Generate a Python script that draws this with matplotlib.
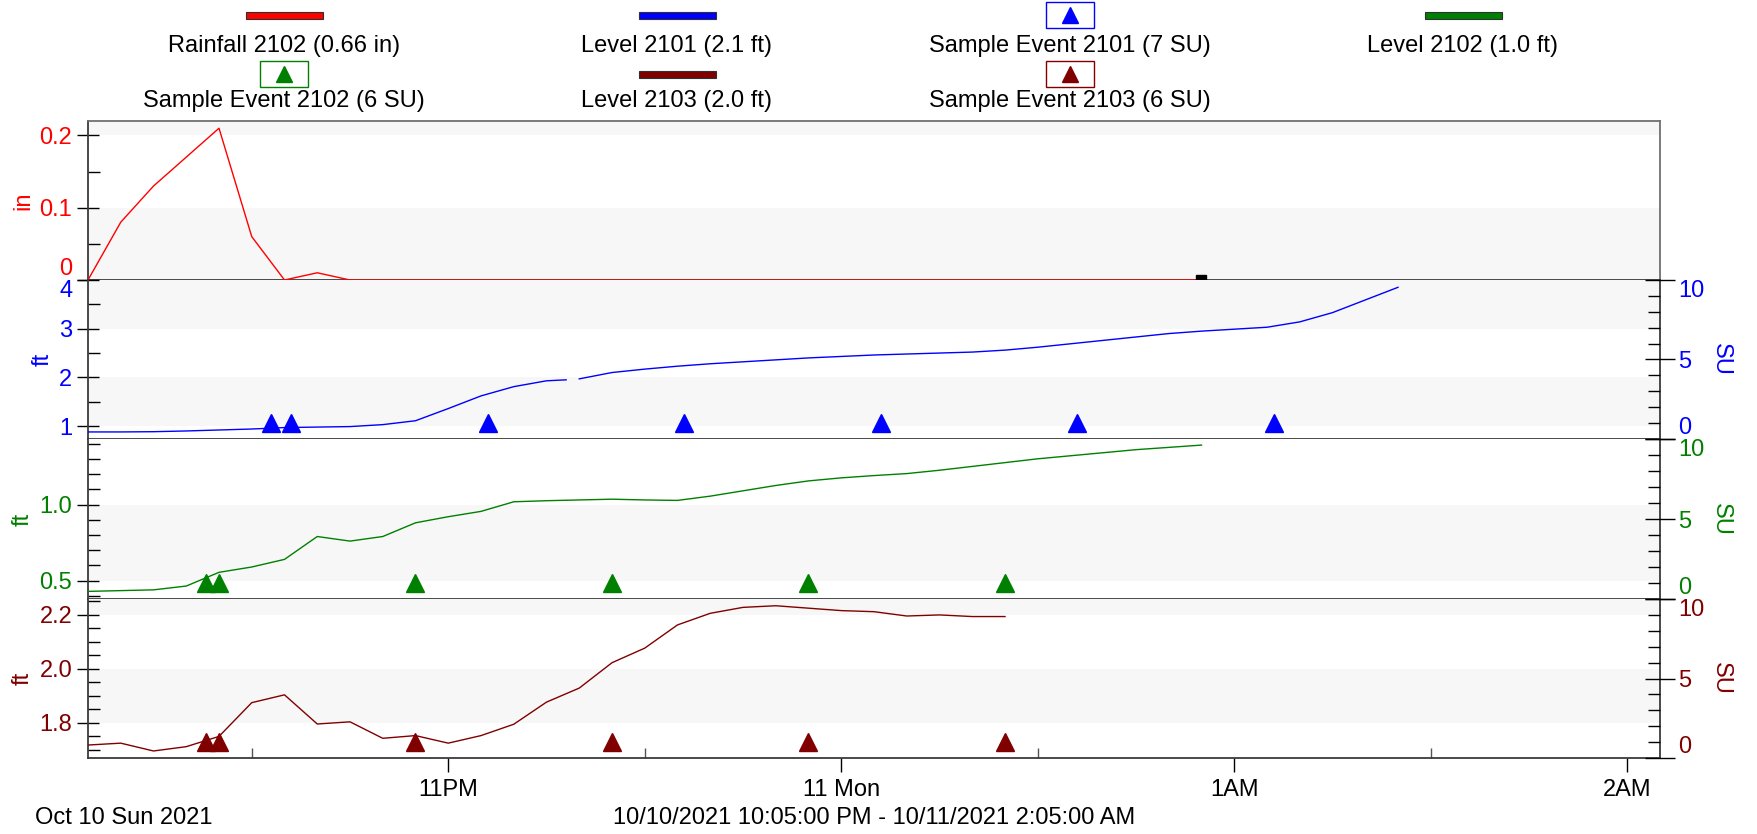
import numpy as np
import pandas as pd
import matplotlib
matplotlib.use("Agg")
import matplotlib.pyplot as plt
import matplotlib.dates as mdates
from matplotlib.patches import Rectangle
from matplotlib.lines import Line2D
from matplotlib.ticker import FixedLocator, MultipleLocator

plt.rcParams['font.family'] = ['Liberation Sans', 'DejaVu Sans']
FS = 17

# ---- data ----
day0 = "2021-10-10"
day1 = "2021-10-11"

rain_start = "22:05"
rain_in = [0.0, 0.08, 0.13, 0.17, 0.21, 0.06, 0.0, 0.01, 0.0,
           0.0, 0.0, 0.0, 0.0, 0.0, 0.0, 0.0, 0.0, 0.0, 0.0, 0.0, 0.0, 0.0, 0.0,
           0.0, 0.0, 0.0, 0.0, 0.0, 0.0, 0.0, 0.0, 0.0, 0.0, 0.0, 0.0]

lvl2101_times = ["22:05", "22:10", "22:15", "22:20", "22:25", "22:30", "22:35", "22:40",
                 "22:45", "22:50", "22:55", "23:00", "23:05", "23:10", "23:15", "23:18",
                 "23:19", "23:20", "23:25", "23:30", "23:35", "23:40", "23:45", "23:50",
                 "23:55", "00:00", "00:05", "00:10", "00:15", "00:20", "00:25", "00:30",
                 "00:35", "00:40", "00:45", "00:50", "00:55", "01:00", "01:05", "01:10",
                 "01:15", "01:20", "01:25"]
lvl2101_ft = [0.88, 0.88, 0.885, 0.90, 0.92, 0.94, 0.97, 0.98,
              0.99, 1.03, 1.11, 1.36, 1.62, 1.81, 1.93, 1.95,
              np.nan, 1.97, 2.10, 2.17, 2.23, 2.28, 2.32, 2.36,
              2.40, 2.43, 2.46, 2.48, 2.50, 2.52, 2.56, 2.62,
              2.69, 2.76, 2.83, 2.90, 2.95, 2.99, 3.03, 3.14,
              3.33, 3.59, 3.85]

lvl2102_start = "22:05"
lvl2102_ft = [0.43, 0.435, 0.44, 0.465, 0.555, 0.59, 0.64, 0.79, 0.76, 0.79, 0.88,
              0.92, 0.955, 1.018, 1.025, 1.03, 1.035, 1.03, 1.027, 1.055, 1.09, 1.125, 1.155,
              1.175, 1.19, 1.203, 1.225, 1.25, 1.275, 1.30, 1.32, 1.34, 1.36, 1.375, 1.39]

lvl2103_start = "22:05"
lvl2103_ft = [1.718, 1.725, 1.696, 1.712, 1.75, 1.875, 1.904, 1.796, 1.804, 1.743, 1.753,
              1.725, 1.753, 1.795, 1.877, 1.929, 2.023, 2.077, 2.163, 2.206, 2.228, 2.234, 2.225,
              2.216, 2.212, 2.196, 2.200, 2.194, 2.194]

se2101_times = ["22:33", "22:36", "23:06", "23:36", "00:06", "00:36", "01:06"]
se2101_su = [1, 1, 1, 1, 1, 1, 1]
se2102_times = ["22:23", "22:25", "22:55", "23:25", "23:55", "00:25"]
se2102_su = [1, 1, 1, 1, 1, 1]
se2103_times = ["22:23", "22:25", "22:55", "23:25", "23:55", "00:25"]
se2103_su = [1, 1, 1, 1, 1, 1]

xtick_times = ["23:00", "00:00", "01:00", "02:00"]
xtick_labels = ["11PM", "11 Mon", "1AM", "2AM"]
xminor_times = ["22:30", "23:30", "00:30", "01:30"]

legend_names = ["Rainfall 2102 (0.66 in)", "Level 2101 (2.1 ft)", "Sample Event 2101 (7 SU)",
                "Level 2102 (1.0 ft)", "Sample Event 2102 (6 SU)", "Level 2103 (2.0 ft)",
                "Sample Event 2103 (6 SU)"]


def ts(hhmm):
    d = day0 if int(hhmm[:2]) >= 12 else day1
    return pd.Timestamp(f"{d} {hhmm}")


def series_times(start, n):
    return pd.date_range(ts(start), periods=n, freq="5min")


RED = "#ff0000"
BLUE = "#0000ff"
GREEN = "#008000"
DRED = "#800000"
BAND = "#f7f7f7"
SPINE = "#3a3a3a"

W, H = 1758, 834
fig = plt.figure(figsize=(W / 100, H / 100), dpi=100)


def fx(x):
    return x / W


def fy(y):
    return 1 - y / H


left, right = 88, 1660
edges = [121, 280, 439, 599, 758]
axes = []
for i in range(4):
    ax = fig.add_axes([fx(left), fy(edges[i + 1]), (right - left) / W, (edges[i + 1] - edges[i]) / H])
    axes.append(ax)

xlo, xhi = ts("22:05"), ts("02:05")

panel_cfg = [
    (RED, "in", (0, 0.22), 0.1, 0.05),
    (BLUE, "ft", (0.735, 4.0), 1.0, 0.5),
    (GREEN, "ft", (0.38, 1.43), 0.5, 0.1),
    (DRED, "ft", (1.67, 2.259), 0.2, 0.05),
]

twins = [None]
for i, ax in enumerate(axes):
    col, unit, ylim, major, minor = panel_cfg[i]
    ax.set_xlim(xlo, xhi)
    ax.set_ylim(*ylim)
    ax.yaxis.set_major_locator(MultipleLocator(major))
    ax.yaxis.set_minor_locator(MultipleLocator(minor))
    ticks = [t for t in ax.yaxis.get_major_locator()() if ylim[0] - 1e-9 <= t <= ylim[1] + 1e-9]
    # alternating bands
    for k in range(0, len(ticks), 2):
        top = ticks[k + 1] if k + 1 < len(ticks) else ylim[1]
        ax.axhspan(ticks[k], top, color=BAND, lw=0, zorder=0)
    ax.tick_params(axis='y', which='major', direction='inout', length=16.5, width=1,
                   labelsize=FS, labelcolor=col, pad=3, color='black')
    ax.tick_params(axis='y', which='minor', direction='in', length=8.6, width=1, color='black')
    ax.set_ylabel(unit, color=col, fontsize=FS, labelpad=4)
    for sp in ax.spines.values():
        sp.set_color(SPINE)
        sp.set_linewidth(1.3)
    if i > 0:
        ax.spines['top'].set_visible(False)
    else:
        ax.spines['top'].set_color('#707070')
        ax.spines['right'].set_color('#707070')
    ax.tick_params(axis='x', which='both', bottom=False, labelbottom=False)

    if i == 1:
        ax.yaxis.set_major_formatter(matplotlib.ticker.FormatStrFormatter('%g'))
    if i == 2 or i == 3:
        ax.yaxis.set_major_formatter(matplotlib.ticker.FormatStrFormatter('%.1f'))
    if i == 0:
        ax.yaxis.set_major_formatter(matplotlib.ticker.FuncFormatter(lambda v, p: "0" if abs(v) < 1e-9 else f"{v:g}"))

    if i > 0:
        tw = ax.twinx()
        tw.set_ylim(0, 10)
        tw.yaxis.set_major_locator(FixedLocator([0, 5, 10]))
        tw.yaxis.set_minor_locator(MultipleLocator(1))
        tw.tick_params(axis='y', which='major', direction='inout', length=22, width=1,
                       labelsize=FS, labelcolor=col, pad=2, color='black')
        tw.tick_params(axis='y', which='minor', direction='in', length=8.6, width=1, color='black')
        tw.set_ylabel("SU", color=col, fontsize=FS, rotation=270, labelpad=20)
        for sp in tw.spines.values():
            sp.set_visible(False)
        tw.set_xlim(xlo, xhi)
        twins.append(tw)

# ---- series ----
axes[0].plot(series_times(rain_start, len(rain_in)), rain_in, color=RED, lw=1.0, zorder=3)
rt = series_times(rain_start, len(rain_in))
axes[0].plot([rt[-1]], [rain_in[-1]], marker='s', ms=6.5, color='black', zorder=5, clip_on=False)

axes[1].plot([ts(t) for t in lvl2101_times], lvl2101_ft, color=BLUE, lw=1.0, zorder=3)
axes[2].plot(series_times(lvl2102_start, len(lvl2102_ft)), lvl2102_ft, color=GREEN, lw=1.0, zorder=3)
axes[3].plot(series_times(lvl2103_start, len(lvl2103_ft)), lvl2103_ft, color=DRED, lw=1.0, zorder=3)

twins[1].plot([ts(t) for t in se2101_times], se2101_su, ls='none', marker='^', ms=12.5, color=BLUE)
twins[2].plot([ts(t) for t in se2102_times], se2102_su, ls='none', marker='^', ms=12.5, color=GREEN)
twins[3].plot([ts(t) for t in se2103_times], se2103_su, ls='none', marker='^', ms=12.5, color=DRED)

# ---- x axis (bottom panel) ----
bx = axes[3]
bx.xaxis.set_major_locator(FixedLocator(mdates.date2num([ts(t) for t in xtick_times])))
bx.xaxis.set_major_formatter(matplotlib.ticker.FixedFormatter(xtick_labels))
bx.xaxis.set_minor_locator(FixedLocator(mdates.date2num([ts(t) for t in xminor_times])))
bx.tick_params(axis='x', which='major', bottom=True, labelbottom=True, direction='out',
               length=10, width=1, labelsize=FS, pad=5, color='black')
bx.tick_params(axis='x', which='minor', bottom=True, direction='in', length=7, width=1, color='#555555')

# edge tick labels kept inside their panel
fig.canvas.draw()
for i, ax in enumerate(axes + twins[1:]):
    lo, hi = ax.get_ylim()
    for tick in ax.yaxis.get_major_ticks():
        loc = tick.get_loc()
        for lab in (tick.label1, tick.label2):
            if abs(loc - hi) < 1e-6:
                lab.set_va('top')
            elif abs(loc - lo) < 1e-6:
                lab.set_va('bottom')

# ---- legend ----
col_x = [284, 677, 1070, 1463]
row_mark_y = [15, 74]
row_text_y = [46, 101]
legend_kind = ["line", "line", "event", "line", "event", "line", "event"]
legend_cols = [RED, BLUE, BLUE, GREEN, GREEN, DRED, DRED]
for j, name in enumerate(legend_names):
    r, c = divmod(j, 4)
    cx = col_x[c]
    my = row_mark_y[r]
    if legend_kind[j] == "line":
        fig.add_artist(Rectangle((fx(cx - 38), fy(my + 3.5)), 77 / W, 7 / H, transform=fig.transFigure,
                                 facecolor=legend_cols[j], edgecolor='#303030', lw=0.8))
    else:
        fig.add_artist(Rectangle((fx(cx - 24), fy(my + 13)), 48 / W, 26 / H, transform=fig.transFigure,
                                 facecolor='white', edgecolor=legend_cols[j], lw=1.0))
        fig.add_artist(Line2D([fx(cx)], [fy(my)], marker='^', ms=12, color=legend_cols[j],
                              transform=fig.transFigure))
    fig.text(fx(cx), fy(row_text_y[r]), name, ha='center', va='center', fontsize=FS, color='black')

fig.text(fx(35), fy(818), "Oct 10 Sun 2021", ha='left', va='center', fontsize=FS)
fig.text(fx(874), fy(818), "10/10/2021 10:05:00 PM - 10/11/2021 2:05:00 AM", ha='center', va='center', fontsize=FS)

fig.savefig("out.png", dpi=100)
